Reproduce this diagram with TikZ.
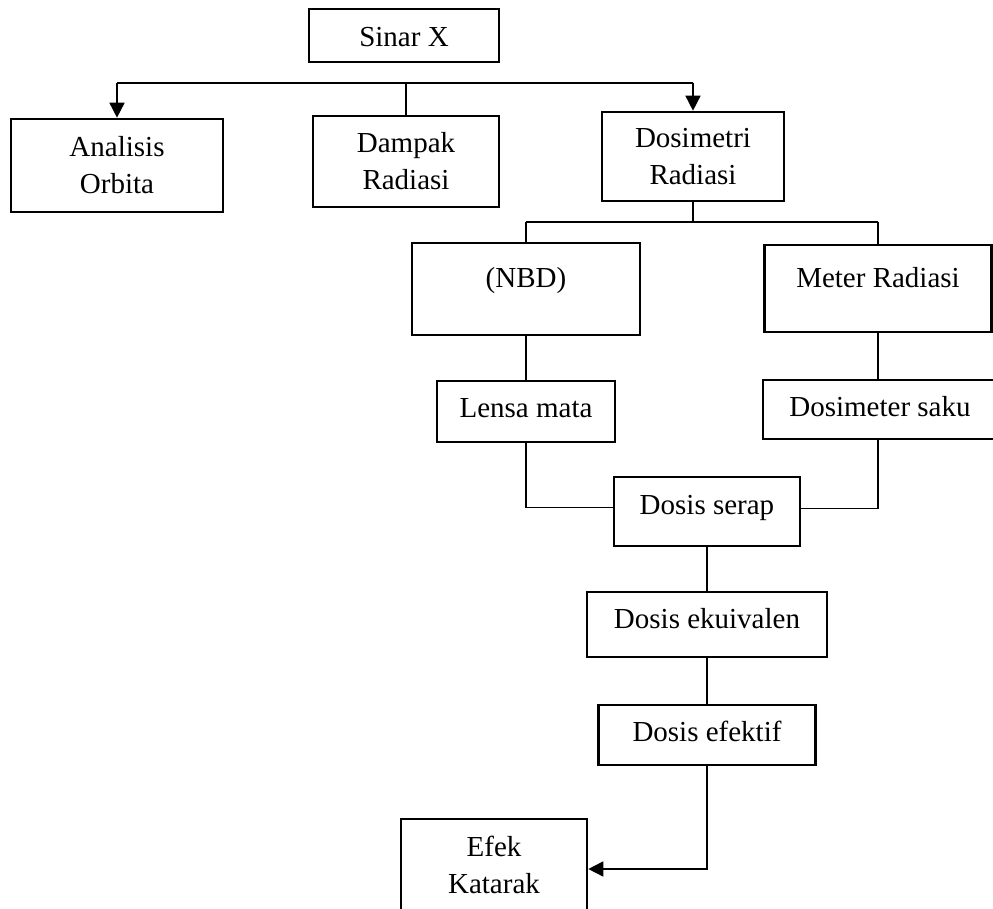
\documentclass[tikz,border=0pt]{standalone}
\usepackage{fontspec}
\setmainfont{Liberation Serif}
\usetikzlibrary{arrows.meta}
\tikzset{
  nodebox/.style={rectangle, draw=black, line width=1.3pt, align=center,
                  inner sep=0pt, font=\fontsize{14.5}{18.5}\selectfont},
  onebox/.style={nodebox, text height=12pt, text depth=2.5pt},
  linkline/.style={line width=0.8pt, draw=black},
  linkarr/.style={linkline, -{Triangle[length=7.5pt,width=7.5pt]}},
}
\begin{document}
\begin{tikzpicture}[x=0.5pt, y=-0.5pt]
    \useasboundingbox (0,0) rectangle (993,909);
    \clip (0,0) rectangle (993,909);
    \node[onebox, minimum width=95pt, minimum height=26.5pt, text depth=1pt] (sinar) at (404,35.5) {Sinar X};
    \node[nodebox, minimum width=106pt, minimum height=46.5pt] (analisis) at (117,165.5) {Analisis\\Orbita};
    \node[nodebox, minimum width=93pt, minimum height=45.5pt] (dampak) at (406,161.5) {Dampak\\Radiasi};
    \node[nodebox, minimum width=91pt, minimum height=44.5pt] (dosimetri) at (693,156.5) {Dosimetri\\Radiasi};
    \node[onebox, minimum width=114pt, minimum height=46pt, text depth=13.5pt] (nbd) at (526,289) {(NBD)};
    \node[onebox, minimum width=113.5pt, minimum height=43.5pt, text depth=13pt] (meter) at (878,288.5) {Meter Radiasi};
    \node[onebox, minimum width=89pt, minimum height=30.5pt, text depth=6pt] (lensa) at (526,411.5) {Lensa mata};
    \node[onebox, minimum width=117pt, minimum height=29.5pt, text depth=5pt] (saku) at (880,409.5) {Dosimeter saku};
    \node[onebox, minimum width=93pt, minimum height=34.5pt, text depth=8.5pt] (serap) at (707,511.5) {Dosis serap};
    \node[onebox, minimum width=120pt, minimum height=32.5pt, text depth=7.5pt] (ekuivalen) at (707,624.5) {Dosis ekuivalen};
    \node[onebox, minimum width=108.5pt, minimum height=30pt, text depth=5pt] (efektif) at (707,735) {Dosis efektif};
    \node[nodebox, minimum width=93pt, minimum height=46pt] (katarak) at (494,865) {Efek\\Katarak};
    % branch bars
    \coordinate (bagi1) at (405,83);
    \coordinate (bagi2) at (693,222);
    \draw[linkline] (bagi1 -| analisis) -- (bagi1 -| dosimetri);
    \draw[linkarr] (bagi1 -| analisis) -- (analisis);
    \draw[linkline] (bagi1 -| dampak) -- (dampak);
    \draw[linkarr] (bagi1 -| dosimetri) -- (dosimetri);
    \draw[linkline] (dosimetri) -- (bagi2);
    \draw[linkline] (bagi2 -| nbd) -- (bagi2 -| meter);
    \draw[linkline] (bagi2 -| nbd) -- (nbd);
    \draw[linkline] (bagi2 -| meter) -- (meter);
    \draw[linkline] (nbd) -- (lensa);
    \draw[linkline] (meter) -- (meter |- saku.north);
    \draw[linkline] (lensa) |- ([yshift=2pt]serap.west);
    \draw[linkline] (saku.south -| meter) |- ([yshift=1.5pt]serap.east);
    \draw[linkline] (serap) -- (ekuivalen);
    \draw[linkline] (ekuivalen) -- (efektif);
    \draw[linkarr] (efektif) |- ([yshift=-2pt]katarak.east);
\end{tikzpicture}
\end{document}
